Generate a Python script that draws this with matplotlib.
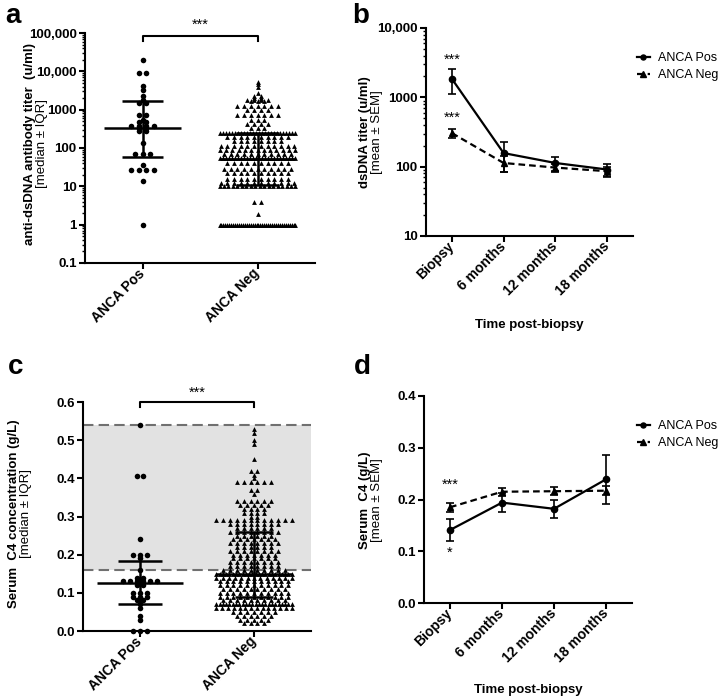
import numpy as np
import matplotlib.pyplot as plt
from matplotlib.ticker import FixedLocator, FixedFormatter, LogLocator, NullFormatter

plt.rcParams['font.family'] = ['Liberation Sans', 'DejaVu Sans']

groups = ['ANCA Pos', 'ANCA Neg']
timepoints = ['Biopsy', '6 months', '12 months', '18 months']

# panel a: anti-dsDNA titer at biopsy, each row level with number of patients on it
a_pos_levels = [20000, 9200, 4200, 3200, 2300, 1800, 1500, 720, 550, 480, 380, 330, 280, 135, 70, 37, 27, 13.5, 1]
a_pos_counts = [1, 2, 1, 1, 1, 1, 2, 2, 1, 2, 4, 2, 2, 1, 3, 1, 4, 1, 1]
a_neg_levels = [5150, 4700, 3900, 2700, 2300, 2000, 1800, 1650, 1220, 1000, 740, 550, 430, 330,
                245, 190, 150, 115, 90, 70, 54, 40, 29, 22, 16, 12.5, 10, 3.9, 1.9, 1]
a_neg_counts = [1, 1, 1, 1, 2, 2, 4, 3, 7, 4, 7, 3, 4, 3,
                26, 10, 8, 12, 13, 11, 26, 10, 11, 10, 10, 12, 18, 2, 1, 40]
a_median = [330, 53]
a_q1 = [60, 11]
a_q3 = [1650, 247]

# panel b: dsDNA titer over time (mean, SEM)
b_pos_mean = [1850, 157, 113, 91]
b_pos_sem = [720, 72, 27, 18]
b_neg_mean = [305, 113, 97, 86]
b_neg_sem = [45, 28, 12, 14]

# panel c: serum C4 at biopsy
c_pos_levels = [0.54, 0.405, 0.24, 0.20, 0.19, 0.16, 0.14, 0.13, 0.12, 0.10, 0.09, 0.08, 0.07, 0.06, 0.04, 0.03, 0.0]
c_pos_counts = [1, 2, 1, 3, 1, 1, 2, 6, 2, 3, 3, 2, 1, 1, 1, 1, 3]
c_neg_levels = [0.53, 0.52, 0.50, 0.49, 0.45, 0.42, 0.41, 0.40, 0.39, 0.37, 0.36, 0.34, 0.33, 0.32, 0.31, 0.30,
                0.29, 0.28, 0.27, 0.26, 0.25, 0.24, 0.23, 0.22, 0.21, 0.20, 0.19, 0.18, 0.17, 0.16,
                0.15, 0.14, 0.13, 0.12, 0.11, 0.10, 0.09, 0.08, 0.07, 0.06, 0.05, 0.04, 0.03, 0.02]
c_neg_counts = [1, 1, 1, 1, 1, 2, 1, 1, 6, 2, 1, 6, 5, 4, 4, 2,
                12, 8, 6, 8, 6, 7, 8, 6, 8, 7, 7, 8, 8, 10,
                24, 13, 11, 11, 10, 11, 11, 10, 24, 14, 7, 6, 5, 4]
c_median = [0.125, 0.15]
c_q1 = [0.07, 0.09]
c_q3 = [0.183, 0.26]
c_normal = (0.16, 0.54)

# panel d: serum C4 over time (mean, SEM)
d_pos_mean = [0.141, 0.194, 0.182, 0.239]
d_pos_sem = [0.021, 0.019, 0.018, 0.047]
d_neg_mean = [0.185, 0.215, 0.216, 0.217]
d_neg_sem = [0.009, 0.008, 0.008, 0.009]

W, H = 722, 700


def px(x, y):
    return x / W, 1 - y / H


def rect(left, top, right, bottom):
    return [left / W, 1 - bottom / H, (right - left) / W, (bottom - top) / H]


def style(ax):
    for s in ('top', 'right'):
        ax.spines[s].set_visible(False)
    for s in ('left', 'bottom'):
        ax.spines[s].set_linewidth(1.5)
    ax.tick_params(which='major', width=1.5, length=4, labelsize=9.5, pad=2)
    ax.tick_params(axis='x', labelsize=10)
    ax.tick_params(which='minor', width=1.0, length=2.2)
    for lab in ax.get_yticklabels() + ax.get_xticklabels():
        lab.set_fontweight('bold')


def swarm(ax, center, levels, counts, marker, size, step, half_max):
    xs, ys = [], []
    for v, n in zip(levels, counts):
        st = step if n == 1 else min(step, 2 * half_max / (n - 1))
        xs.extend(center + (np.arange(n) - (n - 1) / 2) * st)
        ys.extend([v] * n)
    ax.scatter(xs, ys, marker=marker, s=size, c='black', linewidths=0, clip_on=False, zorder=3)


def median_iqr(ax, center, med, q1, q3, half_med, half_iqr):
    kw = dict(color='black', lw=1.8, zorder=4, solid_capstyle='butt')
    ax.plot([center, center], [q1, q3], **kw)
    ax.plot([center - half_med, center + half_med], [med, med], **kw)
    for q in (q1, q3):
        ax.plot([center - half_iqr, center + half_iqr], [q, q], **kw)


def bracket(ax, y_top, y_drop, y_text):
    ax.plot([0, 0, 1, 1], [y_drop, y_top, y_top, y_drop], color='black', lw=1.5, clip_on=False)
    ax.text(0.5, y_text, '***', ha='center', va='center', fontsize=10.5)


def log_axis(ax, lo, hi, labels):
    ax.set_yscale('log')
    ax.set_ylim(lo, hi)
    ticks = [float(t.replace(',', '')) for t in labels]
    ax.yaxis.set_major_locator(FixedLocator(ticks))
    ax.yaxis.set_major_formatter(FixedFormatter(labels))
    ax.yaxis.set_minor_locator(LogLocator(base=10, subs=np.arange(2, 10), numticks=20))
    ax.yaxis.set_minor_formatter(NullFormatter())


def two_line_ylabel(fig, x1, x2, yc, line1, line2):
    fig.text(*px(x1, yc), line1, rotation=90, ha='center', va='center', fontsize=9.5, fontweight='bold')
    fig.text(*px(x2, yc), line2, rotation=90, ha='center', va='center', fontsize=9.5)


def time_course(ax, pos_m, pos_s, neg_m, neg_s):
    x = np.arange(len(timepoints))
    ax.errorbar(x, pos_m, yerr=pos_s, fmt='none', ecolor='black', elinewidth=1.2, capsize=3, capthick=1.2, zorder=3)
    ax.errorbar(x, neg_m, yerr=neg_s, fmt='none', ecolor='black', elinewidth=1.2, capsize=3, capthick=1.2, zorder=3)
    ax.plot(x, pos_m, '-', color='black', lw=1.6, marker='o', ms=4.5, label=groups[0], zorder=4)
    ax.plot(x, neg_m, '--', color='black', lw=1.6, dashes=(3, 1.8), marker='^', ms=5, label=groups[1], zorder=4)
    ax.set_xlim(-0.5, len(timepoints) - 0.5)
    ax.set_xticks(x)
    ax.set_xticklabels(timepoints, rotation=45, ha='right', va='center', rotation_mode='anchor')


def legend(ax, fig, top):
    ax.legend(loc='upper left', bbox_to_anchor=px(637, top), bbox_transform=fig.transFigure,
              frameon=False, fontsize=9, handlelength=1.0, handletextpad=0.7,
              borderaxespad=0, borderpad=0, labelspacing=0.4, markerscale=0.8)


fig = plt.figure(figsize=(W / 100, H / 100), dpi=100)

# ---- a ----
ax = fig.add_axes(rect(85, 33, 315, 263))
swarm(ax, 0, a_pos_levels, a_pos_counts, 'o', 16, 0.065, 0.2)
swarm(ax, 1, a_neg_levels, a_neg_counts, '^', 12, 0.058, 0.33)
median_iqr(ax, 0, a_median[0], a_q1[0], a_q3[0], 0.335, 0.175)
median_iqr(ax, 1, a_median[1], a_q1[1], a_q3[1], 0.33, 0.19)
log_axis(ax, 0.1, 100000, ['0.1', '1', '10', '100', '1000', '10,000', '100,000'])
ax.set_xlim(-0.5, 1.5)
ax.set_xticks([0, 1])
ax.set_xticklabels(groups, rotation=45, ha='right', va='center', rotation_mode='anchor')
bracket(ax, 85000, 63000, 160000)
style(ax)
two_line_ylabel(fig, 30, 42, 144, 'anti-dsDNA antibody titer  (u/ml)', '[median ± IQR]')

# ---- b ----
ax = fig.add_axes(rect(426, 28, 633, 236))
time_course(ax, b_pos_mean, b_pos_sem, b_neg_mean, b_neg_sem)
log_axis(ax, 10, 10000, ['10', '100', '1000', '10,000'])
ax.text(0, 3500, '***', ha='center', va='center', fontsize=10.5)
ax.text(0, 500, '***', ha='center', va='center', fontsize=10.5)
style(ax)
legend(ax, fig, 52)
two_line_ylabel(fig, 365, 377, 132, 'dsDNA titer (u/ml)', '[mean ± SEM]')
fig.text(*px(529, 325), 'Time post-biopsy', ha='center', va='center', fontsize=9.5, fontweight='bold')

# ---- c ----
ax = fig.add_axes(rect(83, 402, 311, 631))
ax.axhspan(*c_normal, color='#e2e2e2', zorder=0, lw=0)
for lvl in c_normal:
    ax.axhline(lvl, color='#707070', lw=1.5, dashes=(5, 2.5), zorder=2)
swarm(ax, 0, c_pos_levels, c_pos_counts, 'o', 16, 0.06, 0.2)
swarm(ax, 1, c_neg_levels, c_neg_counts, '^', 12, 0.06, 0.33)
median_iqr(ax, 0, c_median[0], c_q1[0], c_q3[0], 0.375, 0.19)
median_iqr(ax, 1, c_median[1], c_q1[1], c_q3[1], 0.33, 0.17)
ax.set_ylim(0, 0.6)
ax.set_yticks(np.arange(0, 0.61, 0.1))
ax.set_yticklabels([f'{t:.1f}' for t in np.arange(0, 0.61, 0.1)])
ax.set_xlim(-0.5, 1.5)
ax.set_xticks([0, 1])
ax.set_xticklabels(groups, rotation=45, ha='right', va='center', rotation_mode='anchor')
bracket(ax, 0.6, 0.588, 0.625)
style(ax)
two_line_ylabel(fig, 14, 26, 514, 'Serum  C4 concentration (g/L)', '[median ± IQR]')

# ---- d ----
ax = fig.add_axes(rect(424, 396, 632, 603))
time_course(ax, d_pos_mean, d_pos_sem, d_neg_mean, d_neg_sem)
ax.set_ylim(0, 0.4)
ax.set_yticks(np.arange(0, 0.41, 0.1))
ax.set_yticklabels([f'{t:.1f}' for t in np.arange(0, 0.41, 0.1)])
ax.text(0, 0.228, '***', ha='center', va='center', fontsize=10.5)
ax.text(0, 0.097, '*', ha='center', va='center', fontsize=10.5)
style(ax)
legend(ax, fig, 420)
two_line_ylabel(fig, 365, 377, 500, 'Serum  C4 (g/L)', '[mean ± SEM]')
fig.text(*px(528, 690), 'Time post-biopsy', ha='center', va='center', fontsize=9.5, fontweight='bold')

# panel letters
for letter, (x, y) in zip('abcd', [(5, 23), (352, 23), (8, 374), (354, 374)]):
    fig.text(*px(x, y), letter, fontsize=20, fontweight='bold', va='baseline', ha='left')

fig.savefig('out.png', dpi=100)
